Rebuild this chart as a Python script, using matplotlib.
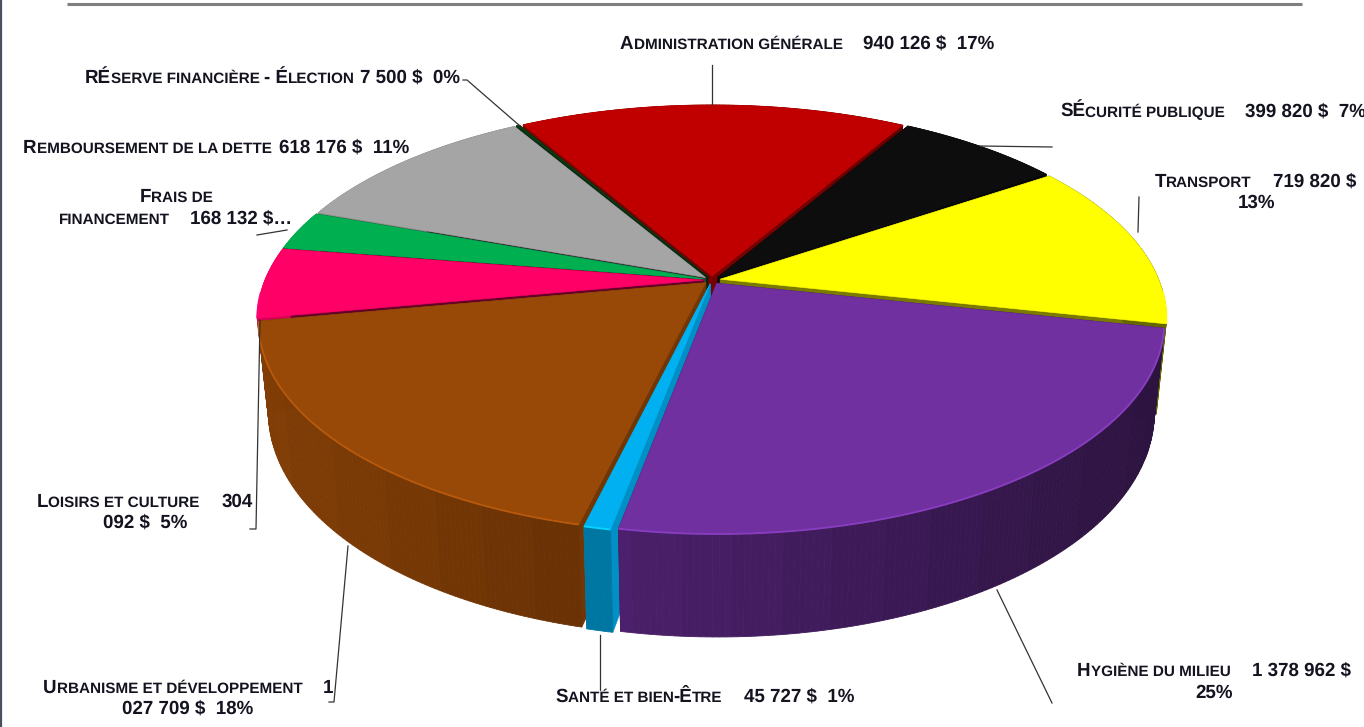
import numpy as np
import matplotlib
matplotlib.use("Agg")
import matplotlib.pyplot as plt
from matplotlib.patches import Polygon
from matplotlib.colors import to_rgb

plt.rcParams["text.hinting"] = "no_hinting"

# ---- data
categories = ["Administration générale", "SÉcurité publique", "Transport", "Hygiène du milieu",
              "Santé et bien-Être", "Urbanisme et développement", "Loisirs et culture",
              "Frais de financement", "Remboursement de la dette", "RÉserve financière - Élection"]
values = [940126, 399820, 719820, 1378962, 45727, 1027709, 304092, 168132, 618176, 7500]
colors = ["#C00000", "#0D0D0D", "#FFFF00", "#7030A0", "#00B0F0", "#984807", "#FF0066", "#00B050",
          "#A5A5A5", "#0A3A12"]
face_shades = [0.62, 0.8, 0.48, 0.55, 0.82, 0.75, 0.4, 0.5, 0.35, 0.6]

# text: (string, x, baseline y)
label_runs = [
    ("Administration générale", 620, 49), ("940 126 $  17%", 863, 49),
    ("SÉcurité publique", 1060, 117), ("399 820 $  7%", 1245, 117),
    ("Transport", 1155, 187), ("719 820 $", 1273, 187), ("13%", 1238, 208),
    ("Hygiène du milieu", 1077, 676), ("1 378 962 $", 1252, 676), ("25%", 1195, 698),
    ("Santé et bien-Être", 555, 702), ("45 727 $  1%", 744, 702),
    ("Urbanisme et développement", 43, 693), ("1", 323, 693), ("027 709 $  18%", 122, 714),
    ("Loisirs et culture", 37, 507), ("304", 222, 507), ("092 $  5%", 103, 528),
    ("Frais de", 140, 202), ("financement", 59, 224), ("168 132 $…", 190, 224),
    ("Remboursement de la dette", 23, 153), ("618 176 $  11%", 279, 153),
    ("RÉserve financière - Élection", 85, 83), ("7 500 $  0%", 360, 83),
]
leaders = [
    ([712, 712], [65, 105]),
    ([1052, 980], [147, 146]),
    ([1139, 1138], [197, 232]),
    ([1052, 997], [703, 590]),
    ([600, 600], [635, 690]),
    ([329, 334, 348], [702, 702, 546]),
    ([250, 256, 260], [529, 529, 320]),
    ([257, 287], [235, 230]),
    ([463, 467, 520], [80, 80, 126]),
]

# ---- view
XC, R = 712.0, 447.0
PERSP, YA, YB = 0.186, -155.5, 280.0
START = -30.0
EXPLODE = 0.019
DRAW_LAST = 3  # Hygiène sits in front of the thin Santé slice


def project(x, y, z=0.0):
    x, y = np.asarray(x, float), np.asarray(y, float)
    w = 1 + PERSP * y
    X = XC + R * x / w * (1 - 0.022 * z)
    Y = (YA * y + YB) / w + z * (87 - 16 * y)
    return X, Y


def shade(col, f):
    return tuple(np.clip(np.array(to_rgb(col)) * f, 0, 1))


def draw_quad(ax, x, y, col, z):
    ax.add_patch(Polygon(np.column_stack([x, y]), closed=True, facecolor=col, edgecolor=col,
                         linewidth=0.6, zorder=z))


fig = plt.figure(figsize=(13.64, 7.27), dpi=100, facecolor="white")
ax = fig.add_axes([0, 0, 1, 1])
ax.set_xlim(0, 1364)
ax.set_ylim(727, 0)
ax.axis("off")

total = sum(values)
edges = START + np.cumsum([0] + values) / total * 360
slices = []
for i, v in enumerate(values):
    a0, a1 = edges[i], edges[i + 1]
    am = np.radians((a0 + a1) / 2)
    ox, oy = EXPLODE * np.sin(am), EXPLODE * np.cos(am)
    key = oy + 0.6 * np.cos(am)
    if i == DRAW_LAST:
        key = -99
    slices.append((i, a0, a1, ox, oy, key))
slices.sort(key=lambda s: -s[5])

zo = 2.0
for i, a0, a1, ox, oy, _ in slices:
    col = colors[i]
    n = max(2, int((a1 - a0) * 1.5))
    th = np.radians(np.linspace(a0, a1, n))
    px, py = ox + (1 - EXPLODE) * np.sin(th), oy + (1 - EXPLODE) * np.cos(th)
    # radial cut faces
    fc = shade(col, face_shades[i])
    for ex, ey in ((px[0], py[0]), (px[-1], py[-1])):
        tx, ty = project([ox, ex], [oy, ey], 0)
        bx, by = project([ex, ox], [ey, oy], 1)
        draw_quad(ax, np.r_[tx, bx], np.r_[ty, by], fc, zo)
    zo += 0.01
    # outer wall in strips, with stepped shading
    tx, ty = project(px, py, 0)
    bx, by = project(px, py, 1)
    for k in range(n - 1):
        xm = 0.5 * (tx[k] + tx[k + 1])
        f = np.clip(0.85 - 0.45 * (xm - 258) / 900, 0.38, 0.9)
        f = round(f * 40) / 40
        draw_quad(ax, [tx[k], tx[k + 1], bx[k + 1], bx[k]], [ty[k], ty[k + 1], by[k + 1], by[k]],
                  shade(col, f), zo)
    zo += 0.01
    # top
    cx, cy = project(ox, oy, 0)
    poly = np.column_stack([np.r_[cx, tx], np.r_[cy, ty]])
    ax.add_patch(Polygon(poly, closed=True, facecolor=col, edgecolor=col, linewidth=0.4, zorder=zo))
    zo += 0.01
    # lit rim only on the side facing the viewer
    mask = py < -0.05
    if mask.sum() > 1:
        ax.plot(tx[mask], ty[mask], color=tuple(np.clip(np.array(to_rgb(col)) * 1.18 + 0.02, 0, 1)),
                lw=1.3, solid_capstyle="butt", zorder=zo)
    zo += 0.01

# leaders
for lx, ly in leaders:
    ax.plot(lx, ly, color="#333333", lw=0.9, zorder=50, solid_joinstyle="miter")

# top rule and left border
ax.plot([67, 1302], [3.5, 3.5], color="#7F7F7F", lw=2.2, solid_capstyle="butt", zorder=60)
ax.plot([0.8, 0.8], [0, 727], color="#4A4F60", lw=1.6, solid_capstyle="butt", zorder=60)

# small-caps text, from runs of real text
FONT = "Liberation Sans"
BIG, SMALL = 13.5, 11.0
renderer = fig.canvas.get_renderer()


def small_caps(s, x, y):
    runs = []
    for ch in s:
        big = not ch.islower()
        if ch == " " and runs:
            big = runs[-1][1]
        if runs and runs[-1][1] == big:
            runs[-1][0] += ch
        else:
            runs.append([ch, big])
    for t, big in runs:
        size = BIG if big else SMALL
        ax.text(x, y, t.upper(), fontsize=size, fontweight="bold",
                family=FONT, color="#141420", ha="left", va="baseline", zorder=70)
        padded = ax.text(0, 0, "|" + t.upper() + "|", fontsize=size, fontweight="bold", family=FONT, alpha=0)
        bar = ax.text(0, 0, "||", fontsize=size, fontweight="bold", family=FONT, alpha=0)
        x += padded.get_window_extent(renderer).width - bar.get_window_extent(renderer).width
        padded.remove()
        bar.remove()


for text, x, y in label_runs:
    small_caps(text, x, y)

fig.savefig("out.png", dpi=100, facecolor="white")
